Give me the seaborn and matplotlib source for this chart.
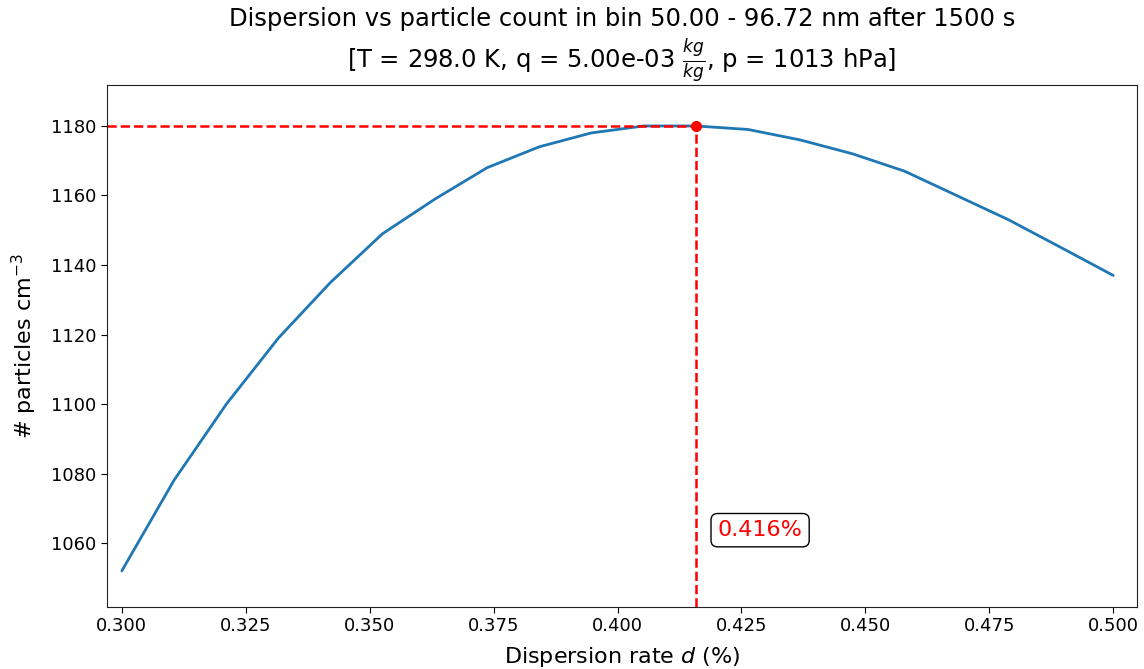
import numpy as np
import pandas as pd
import matplotlib
matplotlib.use("Agg")
import matplotlib.pyplot as plt
import seaborn as sns

dispersion = [0.3000, 0.3105, 0.3211, 0.3316, 0.3421, 0.3526, 0.3632, 0.3737, 0.3842, 0.3947,
              0.4053, 0.4158, 0.4263, 0.4368, 0.4474, 0.4579, 0.4684, 0.4789, 0.4895, 0.5000]
particles = [1052, 1078, 1100, 1119, 1135, 1149, 1159, 1168, 1174, 1178,
             1180, 1180, 1179, 1176, 1172, 1167, 1160, 1153, 1145, 1137]
best_d = 0.4158
best_n = 1180
label_text = "0.416%"

sns.set_style("ticks")
plt.rcParams['font.family'] = ['DejaVu Sans']
plt.rcParams.update({"text.color": "black", "axes.labelcolor": "black",
                     "xtick.color": "black", "ytick.color": "black",
                     "axes.edgecolor": "#222222",
                     "xtick.major.size": 4, "ytick.major.size": 4})

df = pd.DataFrame({"d": dispersion, "n": particles})

fig = plt.figure(figsize=(11.44, 6.69), dpi=100)
ax = fig.add_axes([0.0935, 0.0927, 0.9004, 0.7803])
sns.lineplot(data=df, x="d", y="n", ax=ax, color="#1f77b4", linewidth=2)

xlo, xhi = 0.297, 0.5048
ylo, yhi = 1041.6, 1191.8
ax.set_xlim(xlo, xhi)
ax.set_ylim(ylo, yhi)

ax.hlines(best_n, xlo, best_d, colors="red", linestyles="--", linewidth=1.8)
ax.vlines(best_d, ylo, best_n, colors="red", linestyles="--", linewidth=1.8)
ax.plot([best_d], [best_n], "o", color="red", markersize=7)
ax.text(0.4202, 1063.7, label_text, color="red", fontsize=16, va="center", ha="left",
        bbox=dict(boxstyle="round", facecolor="white", edgecolor="black"))

ax.set_xticks([0.300, 0.325, 0.350, 0.375, 0.400, 0.425, 0.450, 0.475, 0.500])
ax.set_yticks([1060, 1080, 1100, 1120, 1140, 1160, 1180])
ax.tick_params(labelsize=13)
ax.set_xlabel(r"Dispersion rate $d$ (%)", fontsize=16, labelpad=7)
ax.set_ylabel(r"# particles cm$^{-3}$", fontsize=16, labelpad=9)
ax.set_title("Dispersion vs particle count in bin 50.00 - 96.72 nm after 1500 s\n"
             r"[T = 298.0 K, q = 5.00e-03 $\frac{kg}{kg}$, p = 1013 hPa]", fontsize=17.5,
             pad=3)

fig.savefig("out.png", dpi=100)
